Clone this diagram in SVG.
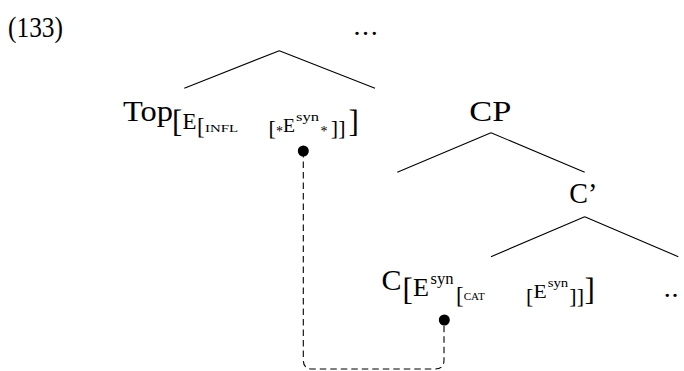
<svg xmlns="http://www.w3.org/2000/svg" width="684" height="371" viewBox="0 0 684 371">
<style>
text{font-family:"Liberation Serif","Times New Roman",serif;fill:#000}
.lab{font-size:30px}
.sc{font-size:10px}
.edge{stroke:#000;stroke-width:1.1;fill:none}
.dash{stroke:#000;stroke-width:1.1;fill:none;stroke-dasharray:6.5 4}
.dot{fill:#000}
</style>
<rect width="684" height="371" fill="#fff"/>
<g id="example-number"><text x="8" y="37" font-size="29" textLength="55" lengthAdjust="spacingAndGlyphs">(133)</text></g>
<g id="connectors">
<path class="edge" d="M279.3,50.7 L184.3,88.3 M279.3,50.7 L375,88.3"/>
<path class="edge" d="M491,132.7 L397.3,172.3 M491,132.7 L584.7,172.3"/>
<path class="edge" d="M584.7,216.7 L491,256.7 M584.7,216.7 L678.3,256.7"/>
<path class="dash" d="M303.3,151 V360 Q303.3,369 312.3,369 H435 Q444,369 444,360 V320"/>
</g>
<g id="root"><text x="353.5" y="34.5" font-size="28" letter-spacing="1.6">...</text></g>
<g id="top">
<text class="lab" x="123" y="120.7" textLength="50" lengthAdjust="spacingAndGlyphs">Top</text>
<text x="172" y="131.5" font-size="31">[</text>
<text x="182.5" y="129.3" font-size="24" textLength="14" lengthAdjust="spacingAndGlyphs">E</text>
<text x="197" y="134.2" font-size="23">[</text>
<text class="sc" x="205" y="131.7" textLength="33" lengthAdjust="spacingAndGlyphs">INFL</text>
<text x="268.5" y="134.6" font-size="22">[</text>
<text x="276" y="135.5" font-size="14">*</text>
<text x="283" y="131.7" font-size="18" textLength="12" lengthAdjust="spacingAndGlyphs">E</text>
<text x="296" y="121.3" font-size="13" textLength="23" lengthAdjust="spacingAndGlyphs">syn</text>
<text x="320.5" y="135.5" font-size="14">*</text>
<text x="330.8" y="134.6" font-size="22">]</text>
<text x="338.3" y="134.6" font-size="22">]</text>
<text x="348.5" y="131.5" font-size="31">]</text>
<circle class="dot" cx="303.3" cy="151" r="5.5"/>
</g>
<g id="cp"><text class="lab" x="469.3" y="120.7" textLength="42" lengthAdjust="spacingAndGlyphs">CP</text></g>
<g id="cbar"><text class="lab" x="569.3" y="203.3" textLength="28" lengthAdjust="spacingAndGlyphs">C’</text></g>
<g id="c">
<text class="lab" x="381.5" y="290" textLength="20" lengthAdjust="spacingAndGlyphs">C</text>
<text x="402.5" y="299.5" font-size="31">[</text>
<text x="413" y="296.3" font-size="25" textLength="16" lengthAdjust="spacingAndGlyphs">E</text>
<text x="430.5" y="284" font-size="16" textLength="23" lengthAdjust="spacingAndGlyphs">syn</text>
<text x="456" y="303.2" font-size="23">[</text>
<text class="sc" x="463.7" y="299.7" textLength="21" lengthAdjust="spacingAndGlyphs">CAT</text>
<text x="526" y="303.2" font-size="22">[</text>
<text x="533.5" y="298" font-size="18" textLength="13.2" lengthAdjust="spacingAndGlyphs">E</text>
<text x="547.7" y="286.5" font-size="13" textLength="20.6" lengthAdjust="spacingAndGlyphs">syn</text>
<text x="569.3" y="303.2" font-size="22">]</text>
<text x="576.8" y="303.2" font-size="22">]</text>
<text x="584.5" y="299.5" font-size="31">]</text>
<circle class="dot" cx="444.3" cy="320" r="5.5"/>
</g>
<g id="dots-right"><text x="663.8" y="296.5" font-size="28" letter-spacing="0.7">..</text></g>
</svg>
